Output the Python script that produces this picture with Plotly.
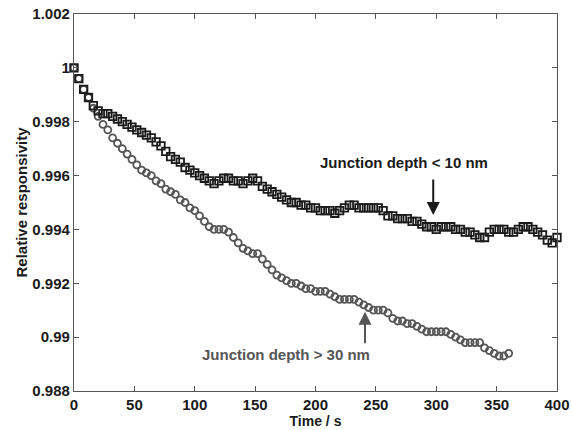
import plotly.graph_objects as go

# Time samples (s)
time_shallow = list(range(0, 401, 4))
time_deep = list(range(0, 361, 4))

# Junction depth < 10 nm (squares)
resp_shallow = [
    1.0000, 0.9996, 0.9992, 0.9989, 0.9986, 0.9984, 0.9983, 0.9983, 0.9982, 0.9981,
    0.9980, 0.9979, 0.9978, 0.9977, 0.9976, 0.9975, 0.9974, 0.99725, 0.9971, 0.9969,
    0.9967, 0.9966, 0.9965, 0.9963, 0.9962, 0.9961, 0.9960, 0.9959, 0.9958, 0.9957,
    0.9958, 0.9959, 0.9959, 0.9958, 0.9958, 0.9957, 0.9958, 0.9959, 0.9958, 0.9956,
    0.9955, 0.9954, 0.9953, 0.9952, 0.9951, 0.9950, 0.9950, 0.9949, 0.9949, 0.9948,
    0.9948, 0.9947, 0.9947, 0.9947, 0.9946, 0.9947, 0.9948, 0.9949, 0.9949, 0.9948,
    0.9948, 0.9948, 0.9948, 0.9948, 0.9947, 0.9945, 0.9945, 0.9944, 0.9944, 0.9944,
    0.9943, 0.9943, 0.9942, 0.9941, 0.9941, 0.9940, 0.9941, 0.9941, 0.9941, 0.9940,
    0.9940, 0.9939, 0.9939, 0.9938, 0.9937, 0.9937, 0.9939, 0.9940, 0.9940, 0.9940,
    0.9939, 0.9939, 0.9940, 0.9941, 0.9941, 0.9940, 0.9939, 0.9938, 0.9936, 0.9935,
    0.9937,
]

# Junction depth > 30 nm (circles)
resp_deep = [
    1.0000, 0.9996, 0.9992, 0.9989, 0.9985, 0.9982, 0.9979, 0.9977, 0.9974, 0.9972,
    0.9970, 0.9968, 0.9966, 0.9964, 0.9962, 0.9961, 0.9960, 0.9958, 0.9957, 0.9955,
    0.9954, 0.9953, 0.9951, 0.9950, 0.9948, 0.9947, 0.9945, 0.9943, 0.9941, 0.9940,
    0.9940, 0.9940, 0.9939, 0.9937, 0.9935, 0.9933, 0.9932, 0.9931, 0.9931, 0.9929,
    0.9927, 0.9925, 0.9923, 0.9922, 0.9921, 0.9920, 0.9920, 0.9919, 0.9918, 0.9918,
    0.9917, 0.9917, 0.9917, 0.9916, 0.9915, 0.9914, 0.9914, 0.9914, 0.9914, 0.9913,
    0.9912, 0.9911, 0.9910, 0.9910, 0.9910, 0.9909, 0.9907, 0.9906, 0.9906, 0.9905,
    0.9905, 0.9904, 0.9903, 0.9902, 0.9902, 0.9902, 0.9902, 0.9902, 0.9901, 0.9900,
    0.9899, 0.9898, 0.9898, 0.9898, 0.9898, 0.9896, 0.9895, 0.9894, 0.9893, 0.9893,
    0.9894,
]

x_ticks = [0, 50, 100, 150, 200, 250, 300, 350, 400]
y_ticks = [0.988, 0.990, 0.992, 0.994, 0.996, 0.998, 1.000, 1.002]
y_tick_text = ["0.988", "0.99", "0.992", "0.994", "0.996", "0.998", "1", "1.002"]

label_shallow = "Junction depth < 10 nm"
label_deep = "Junction depth > 30 nm"

FONT = "Liberation Sans, Arial, sans-serif"
AXIS_COLOR = "#555555"
DARK = "#1a1a1a"
GRAY = "#555555"

fig = go.Figure()
fig.add_trace(go.Scatter(
    x=time_deep, y=resp_deep, mode="markers", cliponaxis=False,
    marker=dict(symbol="circle-open", size=7, color=GRAY, line=dict(width=1.8, color=GRAY)),
    showlegend=False,
))
fig.add_trace(go.Scatter(
    x=time_shallow, y=resp_shallow, mode="markers", cliponaxis=False,
    marker=dict(symbol="square-open", size=7.5, color=DARK, line=dict(width=1.8, color=DARK)),
    showlegend=False,
))

# Text labels
fig.add_annotation(x=273.5, y=0.99648, text="<b>" + label_shallow + "</b>", showarrow=False,
                   font=dict(family=FONT, size=15, color=DARK))
fig.add_annotation(x=175.7, y=0.98934, text="<b>" + label_deep + "</b>", showarrow=False,
                   font=dict(family=FONT, size=15, color=GRAY))
# Arrows
fig.add_annotation(x=297.5, y=0.99454, text="", showarrow=True, ax=0, ay=-37,
                   arrowhead=2, arrowsize=1.3, arrowwidth=2, arrowcolor=DARK)
fig.add_annotation(x=241, y=0.99094, text="", showarrow=True, ax=0, ay=33,
                   arrowhead=2, arrowsize=1.3, arrowwidth=2, arrowcolor=GRAY)

axis_common = dict(
    showgrid=False, zeroline=False, showline=True, linecolor=AXIS_COLOR, linewidth=1.2,
    mirror="ticks", ticks="inside", ticklen=5, tickcolor=AXIS_COLOR, tickwidth=1,
    tickfont=dict(family=FONT, size=15, color=DARK), automargin=False,
)

fig.update_xaxes(range=[0, 400], tickvals=x_ticks, ticktext=["<b>%d</b>" % t for t in x_ticks],
                 title=dict(text="<b>Time / s</b>", font=dict(family=FONT, size=14, color=DARK), standoff=0),
                 **axis_common)
fig.update_yaxes(range=[0.988, 1.002], tickvals=y_ticks, ticktext=["<b>%s</b>" % t for t in y_tick_text],
                 title=dict(text="<b>Relative responsivity</b>", font=dict(family=FONT, size=15, color=DARK), standoff=1),
                 **axis_common)

fig.update_layout(
    width=572, height=430,
    margin=dict(l=74, r=15, t=14, b=39),
    plot_bgcolor="white", paper_bgcolor="white",
    font=dict(family=FONT),
)

fig.write_html("out.html")
